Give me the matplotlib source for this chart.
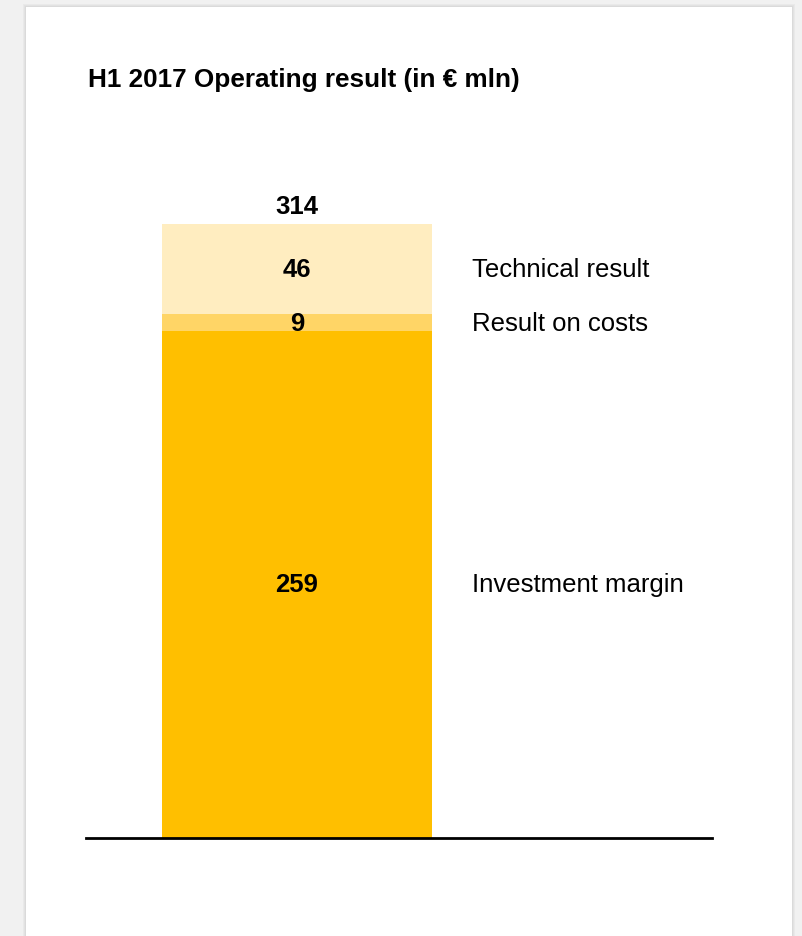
import matplotlib
matplotlib.use("Agg")
import matplotlib.pyplot as plt
from matplotlib.patches import Rectangle

# H1 2017 operating result, stacked by component (in EUR mln)
components = ["Investment margin", "Result on costs", "Technical result"]
values = [259, 9, 46]
colors = ["#FFBF00", "#FFD566", "#FFEDC0"]
total = sum(values)

plt.rcParams["font.family"] = ["Liberation Sans", "DejaVu Sans"]

W, H = 802, 937
fig = plt.figure(figsize=(W / 100, H / 100), dpi=100)
fig.patch.set_facecolor("#F1F1F1")

# card with a soft shadow
for i, c in enumerate(["#E9E9E9", "#E2E2E2", "#DADADA"]):
    pad = 3 - i
    fig.add_artist(Rectangle(((26 - pad) / W, 0), (766 + 2 * pad) / W, (929 + pad) / H,
                             transform=fig.transFigure, facecolor=c, edgecolor="none", zorder=0))
fig.add_artist(Rectangle((26 / W, 0), 766 / W, 929 / H, transform=fig.transFigure,
                         facecolor="white", edgecolor="none", zorder=0))

fig.text(88 / W, 1 - 80 / H, "H1 2017 Operating result (in \u20ac mln)", fontsize=18.8,
         fontweight="bold", va="center", ha="left")

ax = fig.add_axes([86 / W, 1 - 838.5 / H, 626 / W, (838.5 - 225) / H])
ax.set_facecolor("none")
ax.set_xlim(-0.781, 1.537)
ax.set_ylim(0, total)

bottom = 0
for name, v, c in zip(components, values, colors):
    ax.bar(0, v, width=1, bottom=bottom, color=c, edgecolor="none", zorder=2)
    mid = bottom + v / 2
    ax.text(0, mid, str(v), ha="center", va="center", fontsize=18.5, fontweight="bold", zorder=3)
    ax.text(0.65, mid, name, ha="left", va="center", fontsize=18.5, zorder=3)
    bottom += v

ax.text(0, total + 3, str(total), ha="center", va="bottom", fontsize=18.5, fontweight="bold",
        clip_on=False)

ax.axhline(0, color="black", linewidth=2, zorder=4, clip_on=False)
for s in ax.spines.values():
    s.set_visible(False)
ax.set_xticks([])
ax.set_yticks([])

fig.savefig("out.png", dpi=100, facecolor=fig.get_facecolor())
